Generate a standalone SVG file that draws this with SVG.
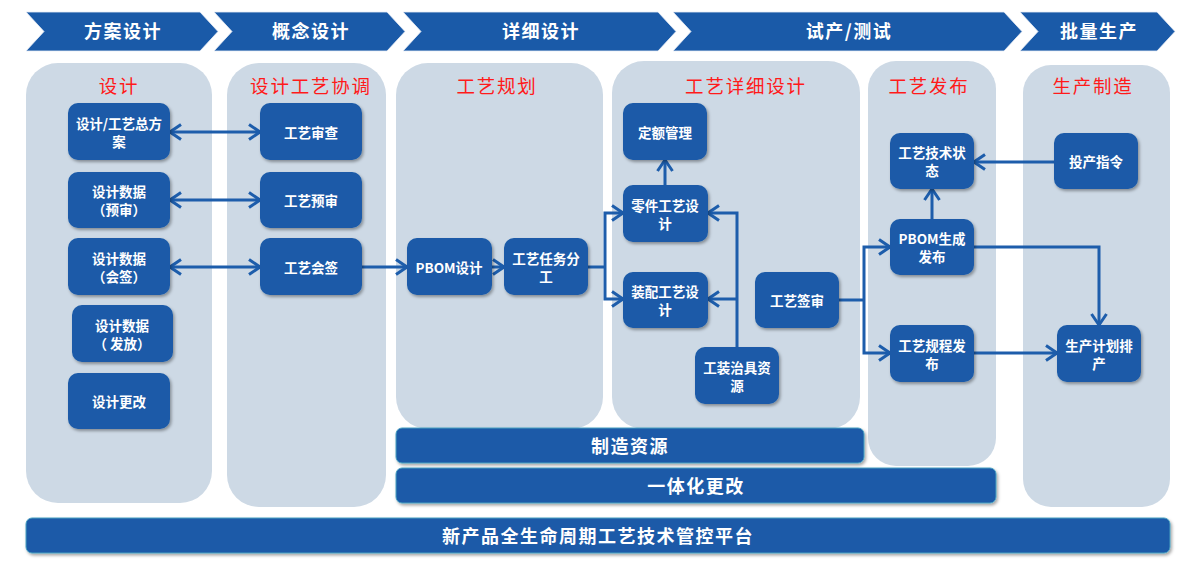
<svg xmlns="http://www.w3.org/2000/svg" width="1196" height="563" viewBox="0 0 1196 563">
<style>
.chev{fill:#1a5aa8;stroke:#e8eef6;stroke-width:0.8}
.chevt{font-family:"Noto Sans CJK SC","Noto Sans",sans-serif;font-size:18px;font-weight:bold;fill:#ffffff;text-anchor:middle;letter-spacing:1.5px}
.lane{fill:#cdd9e5}
.title{font-family:"Noto Sans CJK SC","Noto Sans",sans-serif;font-size:18.5px;fill:#ff1a1a;text-anchor:middle;letter-spacing:1.8px}
.node{fill:#1a5aa8;filter:url(#sh)}
.nt{font-family:"Noto Sans CJK SC","Liberation Sans",sans-serif;font-size:13.5px;font-weight:bold;fill:#ffffff;text-anchor:middle;dominant-baseline:central}
.bar{fill:#1a5aa8;stroke:#46a0c0;stroke-width:1;filter:url(#sh)}
.bt{font-family:"Noto Sans CJK SC","Noto Sans",sans-serif;font-size:18px;font-weight:bold;fill:#ffffff;text-anchor:middle;dominant-baseline:central;letter-spacing:1.5px}
.con{fill:none;stroke:#1d5dab;stroke-width:3}
.arr{marker-end:url(#ah)}
.dbl{marker-start:url(#ah);marker-end:url(#ah)}
</style>
<defs>
<filter id="sh" x="-10%" y="-10%" width="130%" height="140%">
<feDropShadow dx="1.5" dy="2" stdDeviation="1.5" flood-color="#000" flood-opacity="0.35"/>
</filter>
<marker id="ah" markerUnits="userSpaceOnUse" viewBox="0 0 14 18" refX="12.5" refY="9" markerWidth="14" markerHeight="18" orient="auto-start-reverse">
<path d="M1.5,1.5 L12.5,9 L1.5,16.5" fill="none" stroke="#1d5dab" stroke-width="3"/>
</marker>
</defs>

<g id="phases">
<path class="chev" d="M26,12 L200,12 L218,31.5 L200,51 L26,51 L44,31.5 Z"/>
<text class="chevt" x="123" y="38">方案设计</text>
<path class="chev" d="M214,12 L387,12 L405,31.5 L387,51 L214,51 L232,31.5 Z"/>
<text class="chevt" x="311" y="38">概念设计</text>
<path class="chev" d="M403,12 L658,12 L676,31.5 L658,51 L403,51 L421,31.5 Z"/>
<text class="chevt" x="541" y="38">详细设计</text>
<path class="chev" d="M673,12 L1004,12 L1022,31.5 L1004,51 L673,51 L691,31.5 Z"/>
<text class="chevt" x="849" y="38">试产/测试</text>
<path class="chev" d="M1020,12 L1157,12 L1175,31.5 L1157,51 L1020,51 L1038,31.5 Z"/>
<text class="chevt" x="1099" y="38">批量生产</text>
</g>

<g id="lanes">
<rect class="lane" x="26" y="63" width="186" height="440" rx="32"/>
<text class="title" x="119" y="93">设计</text>
<rect class="lane" x="227" y="63" width="159" height="444" rx="32"/>
<text class="title" x="311" y="93">设计工艺协调</text>
<rect class="lane" x="396" y="63" width="207" height="366" rx="32"/>
<text class="title" x="497" y="93">工艺规划</text>
<rect class="lane" x="612" y="61" width="248" height="368" rx="32"/>
<text class="title" x="746" y="93">工艺详细设计</text>
<rect class="lane" x="868" y="61" width="128" height="405" rx="28"/>
<text class="title" x="929" y="93">工艺发布</text>
<rect class="lane" x="1023" y="65" width="147" height="442" rx="28"/>
<text class="title" x="1093" y="93">生产制造</text>
</g>

<g id="connectors">
<path class="con dbl" d="M170,132 H260"/>
<path class="con dbl" d="M170,200 H260"/>
<path class="con dbl" d="M170,267 H260"/>
<path class="con arr" d="M361,267 H407"/>
<path class="con arr" d="M492,267 H504"/>
<path class="con" d="M588,267 H605"/>
<path class="con arr" d="M605,267 V213 H623"/>
<path class="con arr" d="M605,267 V299 H623"/>
<path class="con arr" d="M665,185 V160"/>
<path class="con arr" d="M737,347 V213 H708"/>
<path class="con arr" d="M737,299 H708"/>
<path class="con" d="M839,300 H864"/>
<path class="con arr" d="M864,300 V247 H890"/>
<path class="con arr" d="M864,300 V353 H890"/>
<path class="con arr" d="M932,219 V189"/>
<path class="con arr" d="M1054,162 H974"/>
<path class="con arr" d="M974,247 H1099 V325"/>
<path class="con arr" d="M974,353 H1057"/>
</g>

<g id="n-zongfangan"><rect class="node" x="68" y="103" width="102" height="57" rx="10"/>
<text class="nt" x="119" y="123">设计/工艺总方</text><text class="nt" x="119" y="141">案</text></g>
<g id="n-yushen-data"><rect class="node" x="68" y="172" width="102" height="56" rx="10"/>
<text class="nt" x="119" y="191">设计数据</text><text class="nt" x="119" y="209">（预审）</text></g>
<g id="n-huiqian-data"><rect class="node" x="68" y="238" width="102" height="57" rx="10"/>
<text class="nt" x="119" y="258">设计数据</text><text class="nt" x="119" y="276">（会签）</text></g>
<g id="n-fafang-data"><rect class="node" x="72" y="305" width="101" height="57" rx="10"/>
<text class="nt" x="122" y="325">设计数据</text><text class="nt" x="122" y="343">（ 发放）</text></g>
<g id="n-sheji-genggai"><rect class="node" x="68" y="373" width="102" height="56" rx="10"/>
<text class="nt" x="119" y="401">设计更改</text></g>

<g id="n-shencha"><rect class="node" x="260" y="103" width="102" height="57" rx="10"/>
<text class="nt" x="311" y="132">工艺审查</text></g>
<g id="n-yushen"><rect class="node" x="260" y="172" width="102" height="56" rx="10"/>
<text class="nt" x="311" y="200">工艺预审</text></g>
<g id="n-huiqian"><rect class="node" x="260" y="238" width="102" height="57" rx="10"/>
<text class="nt" x="311" y="267">工艺会签</text></g>

<g id="n-pbom"><rect class="node" x="407" y="238" width="85" height="57" rx="10"/>
<text class="nt" x="449" y="267">PBOM设计</text></g>
<g id="n-renwu"><rect class="node" x="504" y="238" width="84" height="57" rx="10"/>
<text class="nt" x="546" y="258">工艺任务分</text><text class="nt" x="546" y="276">工</text></g>

<g id="n-dinge"><rect class="node" x="623" y="103" width="84" height="57" rx="10"/>
<text class="nt" x="665" y="132">定额管理</text></g>
<g id="n-lingjian"><rect class="node" x="623" y="185" width="85" height="57" rx="10"/>
<text class="nt" x="665" y="205">零件工艺设</text><text class="nt" x="665" y="223">计</text></g>
<g id="n-zhuangpei"><rect class="node" x="623" y="272" width="85" height="56" rx="10"/>
<text class="nt" x="665" y="291">装配工艺设</text><text class="nt" x="665" y="309">计</text></g>
<g id="n-gongzhuang"><rect class="node" x="695" y="347" width="84" height="57" rx="10"/>
<text class="nt" x="737" y="367">工装治具资</text><text class="nt" x="737" y="385">源</text></g>
<g id="n-qianshen"><rect class="node" x="755" y="272" width="84" height="56" rx="10"/>
<text class="nt" x="797" y="300">工艺签审</text></g>

<g id="n-jishu"><rect class="node" x="890" y="133" width="84" height="56" rx="10"/>
<text class="nt" x="932" y="152">工艺技术状</text><text class="nt" x="932" y="170">态</text></g>
<g id="n-pbomfabu"><rect class="node" x="890" y="219" width="84" height="56" rx="10"/>
<text class="nt" x="932" y="238">PBOM生成</text><text class="nt" x="932" y="256">发布</text></g>
<g id="n-guicheng"><rect class="node" x="890" y="325" width="84" height="57" rx="10"/>
<text class="nt" x="932" y="345">工艺规程发</text><text class="nt" x="932" y="363">布</text></g>

<g id="n-touchan"><rect class="node" x="1054" y="133" width="84" height="56" rx="10"/>
<text class="nt" x="1096" y="161">投产指令</text></g>
<g id="n-jihua"><rect class="node" x="1057" y="325" width="84" height="57" rx="10"/>
<text class="nt" x="1099" y="345">生产计划排</text><text class="nt" x="1099" y="363">产</text></g>

<g id="bar-ziyuan"><rect class="bar" x="396" y="428" width="468" height="35" rx="6"/>
<text class="bt" x="630" y="445">制造资源</text></g>
<g id="bar-genggai"><rect class="bar" x="396" y="468" width="600" height="35" rx="6"/>
<text class="bt" x="696" y="485">一体化更改</text></g>
<g id="bar-pingtai"><rect class="bar" x="26" y="518" width="1144" height="35" rx="6"/>
<text class="bt" x="598" y="535">新产品全生命周期工艺技术管控平台</text></g>
</svg>
